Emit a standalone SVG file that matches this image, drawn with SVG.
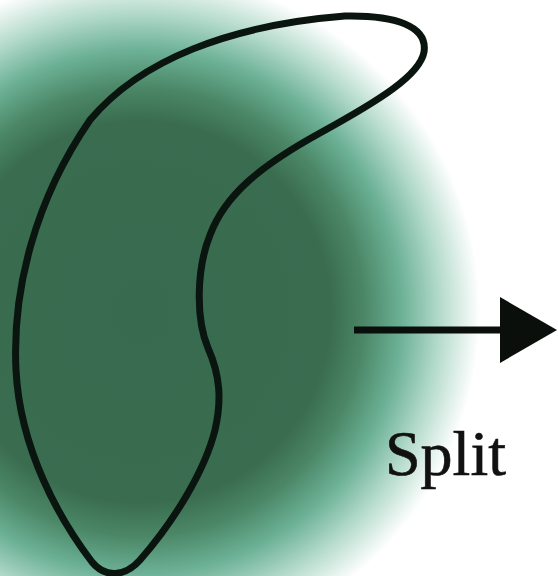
<svg xmlns="http://www.w3.org/2000/svg" width="558" height="576" viewBox="0 0 558 576">
  <defs>
    <radialGradient id="glow" gradientUnits="userSpaceOnUse" cx="140" cy="312" r="340">
      <stop offset="0" stop-color="#386a4f"/>
      <stop offset="0.56" stop-color="#3a6c50"/>
      <stop offset="0.66" stop-color="#4b8767"/>
      <stop offset="0.77" stop-color="#6cb196"/>
      <stop offset="0.88" stop-color="#b3dacb"/>
      <stop offset="1" stop-color="#ffffff"/>
    </radialGradient>
    <style>
      .outline { fill: none; stroke: #0b1510; stroke-width: 7; stroke-linejoin: round; }
      .conn { stroke: #0b0f0c; stroke-width: 7; fill: none; }
      .head { fill: #0b0f0c; }
      .label { font-family: "Liberation Serif", "DejaVu Serif", serif; font-size: 63px; fill: #111111; stroke: #111111; stroke-width: 0.6; }
    </style>
  </defs>
  <rect x="0" y="0" width="558" height="576" fill="#ffffff"/>
  <rect id="glow-bg" x="0" y="0" width="558" height="576" fill="url(#glow)"/>
  <g id="cell">
    <path class="outline" d="M 345 16 C 395 15, 428 26, 424 52 C 420 75, 380 100, 320 133 C 260 166, 225 195, 210 235 C 196 270, 196 320, 208 348 C 220 375, 222 400, 215 430 C 205 470, 175 520, 140 560 C 125 577, 105 578, 92 562 C 60 520, 20 450, 16 370 C 12 290, 35 200, 90 120 C 140 60, 230 25, 345 16 Z"/>
  </g>
  <g id="connectors">
    <line class="conn" x1="354" y1="330" x2="504" y2="330"/>
    <polygon class="head" points="500,297 557,330 500,363"/>
  </g>
  <g id="label-split">
    <text class="label" x="385" y="475" textLength="121" lengthAdjust="spacingAndGlyphs">Split</text>
  </g>
</svg>
